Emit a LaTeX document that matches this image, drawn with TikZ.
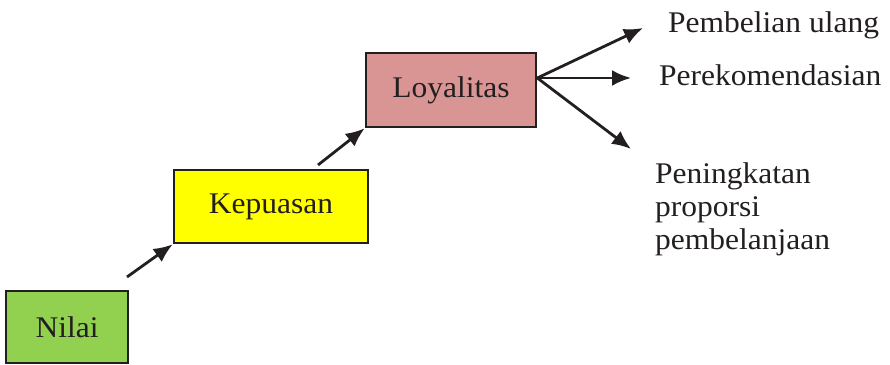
\documentclass[tikz,border=0pt]{standalone}
\usepackage{fontspec}
\setmainfont{Liberation Serif}[FakeStretch=1.05]
\usetikzlibrary{arrows.meta,calc}
\definecolor{txt}{HTML}{231F20}
\definecolor{gr}{HTML}{92D050}
\definecolor{ye}{HTML}{FFFF00}
\definecolor{pk}{HTML}{D99594}
\tikzset{
  box/.style={draw=txt,line width=2.6pt,inner sep=0pt,font=\fontsize{30}{33}\selectfont,text=txt},
  arr/.style={draw=txt,line width=2.8pt,-{Latex[length=19pt,width=16pt]}},
  lbl/.style={anchor=base west,inner sep=0pt,font=\fontsize{30}{33}\selectfont,text=txt,align=left}
}
\begin{document}
\begin{tikzpicture}[x=1pt,y=1pt]
\useasboundingbox (0,0) rectangle (890,364);
\node[box,fill=gr,minimum width=122pt,minimum height=72pt] (nilai) at (67,37) {Nilai};
\node[box,fill=ye,minimum width=194pt,minimum height=73pt] (kep) at (271,157.5) {Kepuasan};
\node[box,fill=pk,minimum width=170pt,minimum height=74pt] (loy) at (451,274) {Loyalitas};
\coordinate (s1) at (127,87);
\coordinate (s2) at (318,199);
\coordinate (lo) at ($(loy.east)+(0,12)$);
\node[lbl] (t1) at (668,331) {Pembelian ulang};
\node[lbl] (t2) at (659,278) {Perekomendasian};
\node[lbl,anchor=north west] (t3) at (655,202) {Peningkatan\\proporsi\\pembelanjaan};
\coordinate (e1) at (643,336);
\coordinate (e2) at (631,286);
\coordinate (e3) at (631,215);
\draw[arr] (s1) -- (kep.south west);
\draw[arr] (s2) -- (loy.south west);
\draw[arr] (lo) -- (e1);
\draw[arr] (lo) -- (e2);
\draw[arr] (lo) -- (e3);
\end{tikzpicture}
\end{document}
